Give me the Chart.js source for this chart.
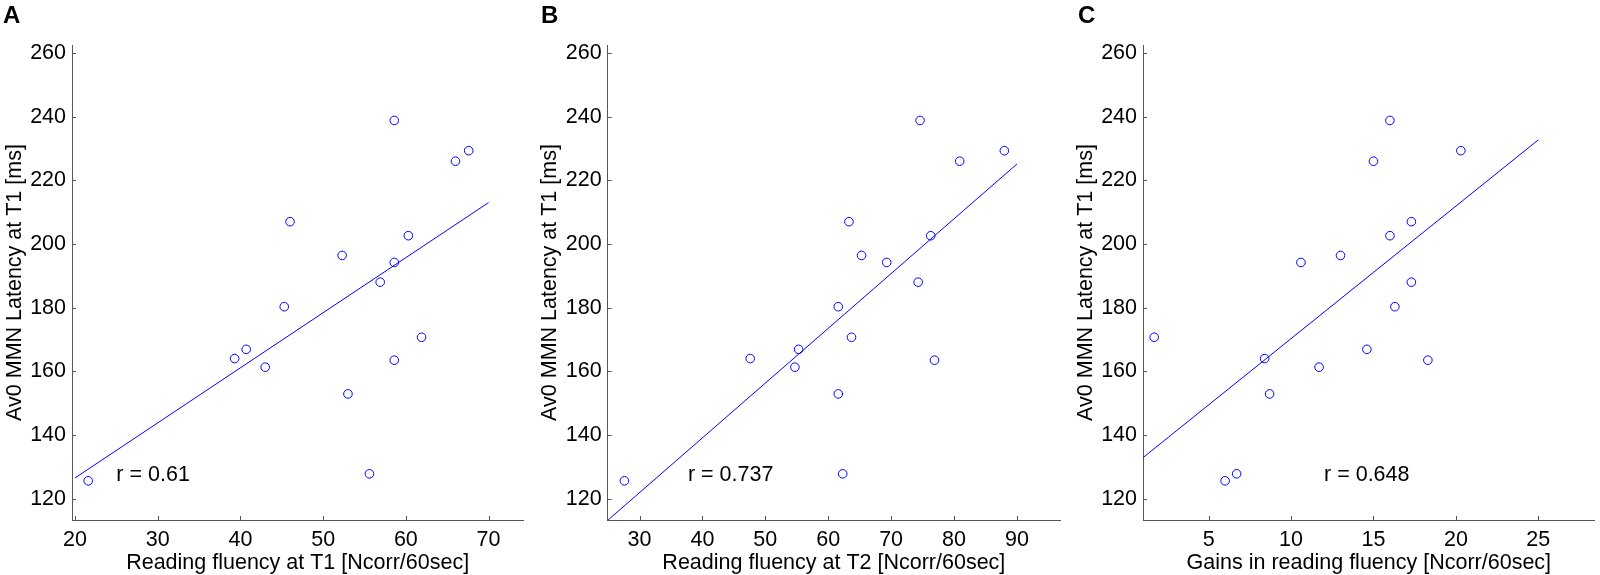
<!DOCTYPE html>
<html>
<head>
<meta charset="utf-8">
<script src="https://cdn.jsdelivr.net/npm/chart.js@4.4.1/dist/chart.umd.min.js"></script>
<style>
  body { margin: 0; background: #fff; }
  #wrap { position: relative; width: 1600px; height: 575px; overflow: hidden; }
  canvas { position: absolute; top: 0; }
  .letter { position: absolute; top: 3px; font: bold 24px "Liberation Sans", Arial, sans-serif; line-height: 24px; color: #000; }
</style>
</head>
<body>
<div id="wrap">
  <canvas id="panelA" width="540" height="575" style="left:0px"></canvas>
  <canvas id="panelB" width="540" height="575" style="left:535px"></canvas>
  <canvas id="panelC" width="529" height="575" style="left:1071px"></canvas>
  <div class="letter" style="left:3px">A</div>
  <div class="letter" style="left:541px">B</div>
  <div class="letter" style="left:1078px">C</div>
</div>
<script>
// Av0 MMN Latencia en T1 (mismo orden de sujetos en los tres paneles)
const latencyT1 = [238.8, 226.0, 229.3, 207.0, 202.6, 196.4, 194.2, 188.0, 180.3,
                   164.0, 166.9, 161.3, 170.7, 163.5, 152.9, 127.8, 125.6];
const fluencyT1 = [58.6, 66.0, 67.6, 46.0, 60.3, 52.3, 58.6, 56.9, 45.3,
                   39.3, 40.7, 43.0, 61.9, 58.6, 53.0, 55.6, 21.6];
const fluencyT2 = [74.6, 80.9, 88.0, 63.3, 76.3, 65.3, 69.3, 74.3, 61.6,
                   47.6, 55.3, 54.7, 63.7, 76.9, 61.6, 62.3, 27.6];
const fluencyGains = [16.0, 15.0, 20.3, 17.3, 16.0, 13.0, 10.6, 17.3, 16.3,
                      8.4, 14.6, 11.7, 1.7, 18.3, 8.7, 6.7, 6.0];

// rectas de regresion (extremos)
const fitA = [[20, 126.5], [70, 213.0]];
const fitB = [[25, 113.3], [90, 225.1]];
const fitC = [[1, 132.8], [25, 232.7]];

// ticks
const yTicks = [120, 140, 160, 180, 200, 220, 240, 260];
const xTicksA = [20, 30, 40, 50, 60, 70];
const xTicksB = [30, 40, 50, 60, 70, 80, 90];
const xTicksC = [5, 10, 15, 20, 25];

const rLabels = ['r = 0.61', 'r = 0.737', 'r = 0.648'];
const rAt = [[25, 127.5], [37.7, 127.5], [12, 127.5]];

const yTitle = 'Av0 MMN Latency at T1 [ms]';
const xTitles = ['Reading fluency at T1 [Ncorr/60sec]',
                 'Reading fluency at T2 [Ncorr/60sec]',
                 'Gains in reading fluency [Ncorr/60sec]'];

const blue = 'rgb(0,0,255)';
const axisColor = '#555';
const fontSize = 21.5;

Chart.defaults.font.family = '"Liberation Sans", Arial, sans-serif';
Chart.defaults.font.size = fontSize;
Chart.defaults.color = '#000';

// ticks hacia adentro como en matlab + texto de la correlacion
const inwardTicks = {
  id: 'inwardTicks',
  afterDraw(chart) {
    const { ctx, chartArea, scales } = chart;
    ctx.save();
    ctx.strokeStyle = axisColor;
    ctx.lineWidth = 1;
    scales.x.ticks.forEach(t => {
      const px = Math.round(scales.x.getPixelForValue(t.value)) + 0.5;
      ctx.beginPath();
      ctx.moveTo(px, chartArea.bottom);
      ctx.lineTo(px, chartArea.bottom - 4);
      ctx.stroke();
    });
    scales.y.ticks.forEach(t => {
      const py = Math.round(scales.y.getPixelForValue(t.value)) + 0.5;
      ctx.beginPath();
      ctx.moveTo(chartArea.left, py);
      ctx.lineTo(chartArea.left + 4, py);
      ctx.stroke();
    });
    const o = chart.options.plugins.inwardTicks;
    ctx.fillStyle = '#000';
    ctx.font = fontSize + 'px "Liberation Sans", Arial, sans-serif';
    ctx.textAlign = 'left';
    ctx.textBaseline = 'middle';
    ctx.fillText(o.label, scales.x.getPixelForValue(o.at[0]), scales.y.getPixelForValue(o.at[1]));
    ctx.restore();
  }
};

function makePanel(id, xs, fit, xTicks, xMin, xMax, yWidth, padRight, idx) {
  return new Chart(document.getElementById(id), {
    type: 'scatter',
    data: {
      datasets: [
        {
          data: xs.map((v, i) => ({ x: v, y: latencyT1[i] })),
          pointStyle: 'circle',
          pointRadius: 4.3,
          pointHoverRadius: 4.3,
          borderWidth: 1,
          borderColor: blue,
          backgroundColor: 'rgba(0,0,0,0)'
        },
        {
          data: fit.map(([x, y]) => ({ x, y })),
          showLine: true,
          pointRadius: 0,
          borderWidth: 1,
          borderColor: blue,
          fill: false
        }
      ]
    },
    options: {
      responsive: false,
      animation: false,
      devicePixelRatio: 1,
      layout: { padding: { top: 45, left: 0, right: padRight, bottom: 0 } },
      plugins: {
        legend: { display: false },
        tooltip: { enabled: false },
        inwardTicks: { label: rLabels[idx], at: rAt[idx] }
      },
      scales: {
        x: {
          type: 'linear',
          position: 'bottom',
          min: xMin,
          max: xMax,
          afterBuildTicks: s => { s.ticks = xTicks.map(v => ({ value: v })); },
          afterFit: s => { s.height = 55; },
          grid: { display: false, drawTicks: false },
          border: { display: true, color: axisColor, width: 1 },
          ticks: { padding: 7.4, maxRotation: 0, autoSkip: false, includeBounds: false },
          title: { display: true, text: xTitles[idx], padding: { top: 0, bottom: 0 }, font: { size: fontSize, lineHeight: 1.1 } }
        },
        y: {
          type: 'linear',
          min: 113.3,
          max: 262.5,
          afterBuildTicks: s => { s.ticks = yTicks.map(v => ({ value: v })); },
          afterFit: s => { s.width = yWidth; },
          grid: { display: false, drawTicks: false },
          border: { display: true, color: axisColor, width: 1 },
          ticks: { padding: 6, autoSkip: false, includeBounds: false },
          title: { display: true, text: yTitle, padding: { top: 2.3, bottom: 0 }, font: { size: fontSize, lineHeight: 1.2 } }
        }
      }
    },
    plugins: [inwardTicks]
  });
}

makePanel('panelA', fluencyT1, fitA, xTicksA, 19.64, 74.2, 72, 16.7, 0);
makePanel('panelB', fluencyT2, fitB, xTicksB, 24.94, 96.85, 72.7, 15, 1);
makePanel('panelC', fluencyGains, fitC, xTicksC, 1.02, 28.42, 72, 4.3, 2);
</script>
</body>
</html>
